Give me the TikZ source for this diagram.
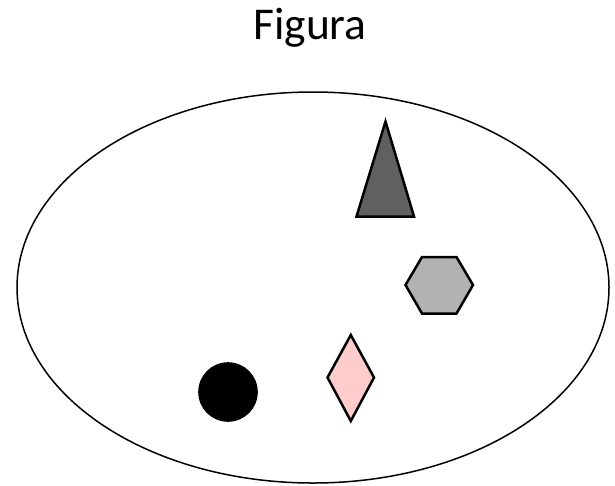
\documentclass[tikz,border=0pt]{standalone}
\usepackage{fontspec}
\setmainfont{Carlito}
\begin{document}
\begin{tikzpicture}[x=1pt,y=-1pt,
  shapeline/.style={draw=black,line width=2.5pt,line join=miter}]
\useasboundingbox (0,0) rectangle (615,485);
\node[font=\fontsize{45.5}{52}\selectfont,anchor=base,inner sep=0] (title) at (310,39.5) {Figura};
% big ellipse
\draw[line width=1.5pt] (313,287.5) ellipse [x radius=296, y radius=195.5];
% triangle
\draw[shapeline,fill={rgb,255:red,96;green,96;blue,96}] (385.5,121.5) -- (414,216.5) -- (356.5,216.5) -- cycle;
% hexagon
\draw[shapeline,fill={rgb,255:red,178;green,178;blue,178}] (405.5,285) -- (422,257) -- (456.5,257) -- (473,285) -- (456.5,313.5) -- (422,313.5) -- cycle;
% diamond
\draw[shapeline,fill={rgb,255:red,255;green,204;blue,204}] (350.8,335) -- (374,377.5) -- (350.8,421) -- (327.5,377.5) -- cycle;
% circle
\fill[black] (228,392) circle [radius=29.8];
\end{tikzpicture}
\end{document}
